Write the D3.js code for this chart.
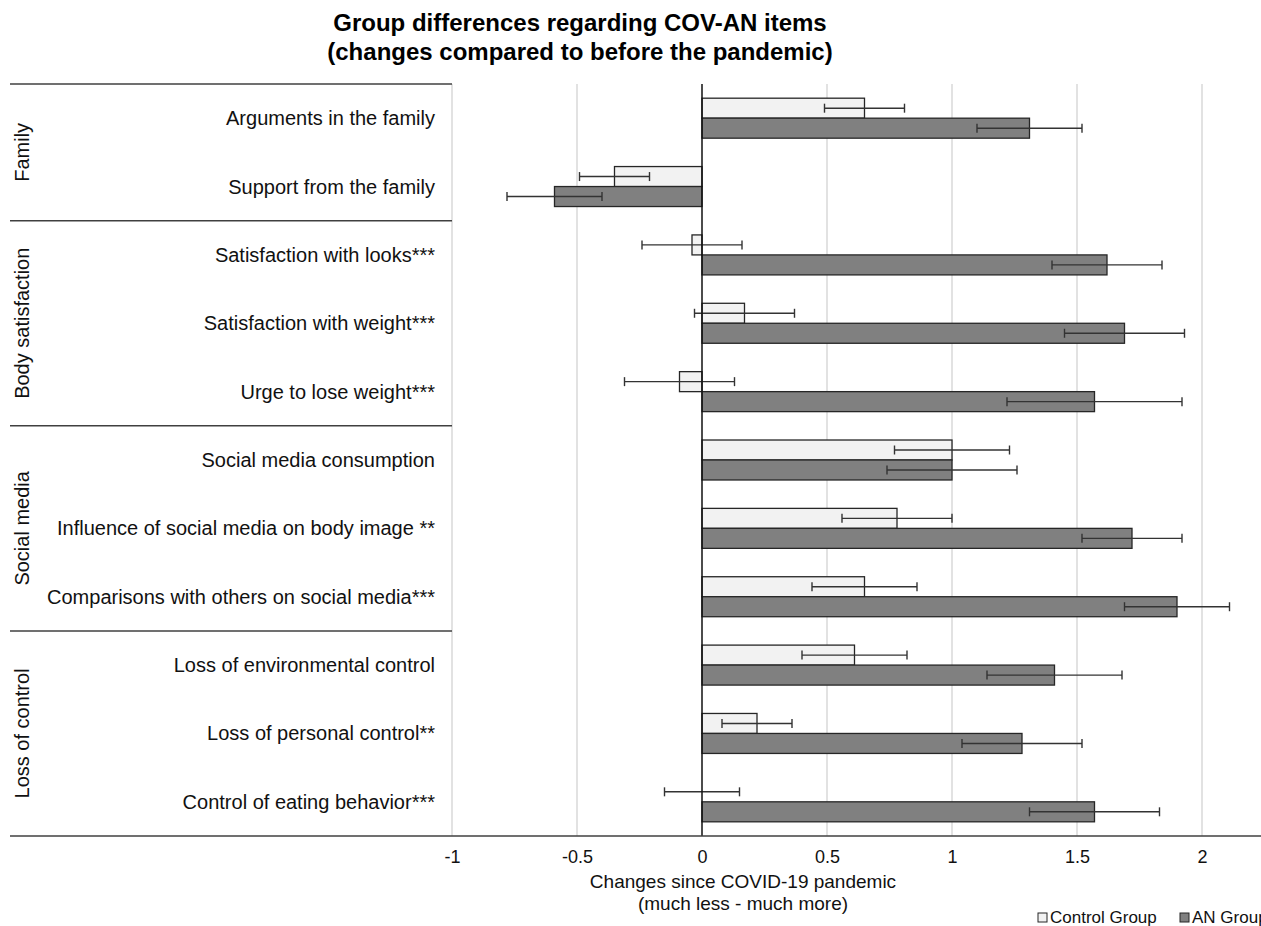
<!DOCTYPE html>
<html>
<head>
<meta charset="utf-8">
<script src="https://cdn.jsdelivr.net/npm/d3@7"></script>
<style>
  body { margin: 0; background: #fff; }
  svg { font-family: "Liberation Sans", Arial, sans-serif; }
</style>
</head>
<body>
<div id="chart"></div>
<script>
//Data
var items = [
  "Arguments in the family",
  "Support from the family",
  "Satisfaction with looks***",
  "Satisfaction with weight***",
  "Urge to lose weight***",
  "Social media consumption",
  "Influence of social media on body image **",
  "Comparisons with others on social media***",
  "Loss of environmental control",
  "Loss of personal control**",
  "Control of eating behavior***"
];
var groupNames = ["Family", "Body satisfaction", "Social media", "Loss of control"];
var groupSizes = [2, 3, 3, 3];

var controlMean = [0.65, -0.35, -0.04, 0.17, -0.09, 1.00, 0.78, 0.65, 0.61, 0.22, 0.00];
var controlErr  = [0.16, 0.14, 0.20, 0.20, 0.22, 0.23, 0.22, 0.21, 0.21, 0.14, 0.15];
var anMean      = [1.31, -0.59, 1.62, 1.69, 1.57, 1.00, 1.72, 1.90, 1.41, 1.28, 1.57];
var anErr       = [0.21, 0.19, 0.22, 0.24, 0.35, 0.26, 0.20, 0.21, 0.27, 0.24, 0.26];

var seriesNames = ["Control Group", "AN Group"];
var seriesFill = ["#f2f2f2", "#808080"];
var xTicks = [-1, -0.5, 0, 0.5, 1, 1.5, 2];

//Canvas
var W = 1261, H = 926;
var plotTop = 84, plotBottom = 836, leftEdge = 10;

var svg = d3.select("#chart").append("svg")
  .attr("width", W)
  .attr("height", H);

//Scales
var xScale = d3.scaleLinear().domain([-1, 2.25]).range([452, 1264.5]);
var yScale = d3.scaleBand().domain(items).range([plotTop, plotBottom]).padding(0);
var subScale = d3.scaleBand().domain(seriesNames).range([0, yScale.bandwidth()])
  .paddingInner(0).paddingOuter(0.71);

var rows = items.map(function(d, i) {
  return {
    item: d,
    vals: [
      {s: seriesNames[0], m: controlMean[i], e: controlErr[i], fill: seriesFill[0]},
      {s: seriesNames[1], m: anMean[i], e: anErr[i], fill: seriesFill[1]}
    ]
  };
});

//Title
svg.append("text")
  .attr("x", 580).attr("y", 31)
  .attr("text-anchor", "middle")
  .style("font-size", "24px").style("font-weight", "bold")
  .text("Group differences regarding COV-AN items");
svg.append("text")
  .attr("x", 580).attr("y", 60)
  .attr("text-anchor", "middle")
  .style("font-size", "24px").style("font-weight", "bold")
  .text("(changes compared to before the pandemic)");

//Gridlines
svg.append("g").selectAll("line")
  .data(xTicks.filter(function(t) { return t !== 0; }))
  .enter().append("line")
    .attr("x1", function(d) { return xScale(d); })
    .attr("x2", function(d) { return xScale(d); })
    .attr("y1", plotTop).attr("y2", plotBottom)
    .attr("stroke", "#d9d9d9").attr("stroke-width", 1.5);

//Bars
var rowG = svg.append("g").selectAll("g.row")
  .data(rows)
  .enter().append("g")
    .attr("class", "row")
    .attr("transform", function(d) { return "translate(0," + yScale(d.item) + ")"; });

rowG.selectAll("rect")
  .data(function(d) { return d.vals; })
  .enter().append("rect")
    .attr("x", function(d) { return xScale(Math.min(0, d.m)); })
    .attr("width", function(d) { return Math.abs(xScale(d.m) - xScale(0)); })
    .attr("y", function(d) { return subScale(d.s); })
    .attr("height", subScale.bandwidth())
    .attr("fill", function(d) { return d.fill; })
    .attr("stroke", "#262626").attr("stroke-width", 1.3);

//Error bars
var errG = rowG.selectAll("g.err")
  .data(function(d) { return d.vals; })
  .enter().append("g")
    .attr("class", "err")
    .attr("stroke", "#333").attr("stroke-width", 1.4);

errG.append("line")
  .attr("x1", function(d) { return xScale(d.m - d.e); })
  .attr("x2", function(d) { return xScale(d.m + d.e); })
  .attr("y1", function(d) { return subScale(d.s) + subScale.bandwidth() / 2; })
  .attr("y2", function(d) { return subScale(d.s) + subScale.bandwidth() / 2; });

[-1, 1].forEach(function(sign) {
  errG.append("line")
    .attr("x1", function(d) { return xScale(d.m + sign * d.e); })
    .attr("x2", function(d) { return xScale(d.m + sign * d.e); })
    .attr("y1", function(d) { return subScale(d.s) + subScale.bandwidth() / 2 - 4.5; })
    .attr("y2", function(d) { return subScale(d.s) + subScale.bandwidth() / 2 + 4.5; });
});

//Zero line
svg.append("line")
  .attr("x1", xScale(0)).attr("x2", xScale(0))
  .attr("y1", plotTop).attr("y2", plotBottom)
  .attr("stroke", "#111").attr("stroke-width", 1.5);

//Item labels
svg.append("g").selectAll("text")
  .data(items)
  .enter().append("text")
    .attr("x", 435)
    .attr("y", function(d) { return yScale(d) + yScale.bandwidth() / 2; })
    .attr("dy", "0.35em")
    .attr("text-anchor", "end")
    .style("font-size", "20px")
    .attr("fill", "#111")
    .text(function(d) { return d; });

//Group dividers and labels
var start = 0;
var groupInfo = groupNames.map(function(g, i) {
  var o = {name: g, first: items[start], last: items[start + groupSizes[i] - 1]};
  start += groupSizes[i];
  return o;
});

svg.append("g").selectAll("line")
  .data(groupInfo)
  .enter().append("line")
    .attr("x1", leftEdge).attr("x2", xScale(-1))
    .attr("y1", function(d) { return yScale(d.first); })
    .attr("y2", function(d) { return yScale(d.first); })
    .attr("stroke", "#404040").attr("stroke-width", 1.5);

svg.append("g").selectAll("text")
  .data(groupInfo)
  .enter().append("text")
    .attr("transform", function(d) {
      var cy = (yScale(d.first) + yScale(d.last) + yScale.bandwidth()) / 2;
      return "translate(29," + cy + ") rotate(-90)";
    })
    .attr("text-anchor", "middle")
    .style("font-size", "20px")
    .attr("fill", "#111")
    .text(function(d) { return d.name; });

//X axis
svg.append("line")
  .attr("x1", leftEdge).attr("x2", W)
  .attr("y1", plotBottom).attr("y2", plotBottom)
  .attr("stroke", "#404040").attr("stroke-width", 1.5);

var xAxis = d3.axisBottom(xScale).tickValues(xTicks).tickSize(0).tickPadding(14)
  .tickFormat(function(d) { return String(d); });

var axisG = svg.append("g")
  .attr("transform", "translate(0," + plotBottom + ")")
  .call(xAxis);
axisG.select(".domain").remove();
axisG.selectAll("text")
  .style("font-size", "18px")
  .attr("fill", "#111")
  .style("font-family", "'Liberation Sans', Arial, sans-serif");

svg.append("text")
  .attr("x", 743).attr("y", 888)
  .attr("text-anchor", "middle")
  .style("font-size", "19px").attr("fill", "#111")
  .text("Changes since COVID-19 pandemic");
svg.append("text")
  .attr("x", 743).attr("y", 910)
  .attr("text-anchor", "middle")
  .style("font-size", "19px").attr("fill", "#111")
  .text("(much less - much more)");

//Legend
var legendX = [1038, 1180];
var legend = svg.append("g").selectAll("g")
  .data(seriesNames)
  .enter().append("g")
    .attr("transform", function(d, i) { return "translate(" + legendX[i] + ",913)"; });
legend.append("rect")
  .attr("width", 9).attr("height", 9)
  .attr("fill", function(d, i) { return seriesFill[i]; })
  .attr("stroke", "#262626").attr("stroke-width", 1);
legend.append("text")
  .attr("x", 12).attr("y", 10)
  .style("font-size", "17px").attr("fill", "#111")
  .text(function(d) { return d; });
</script>
</body>
</html>
